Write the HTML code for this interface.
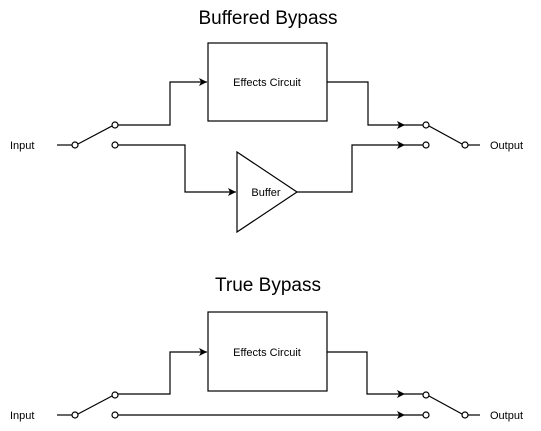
<!DOCTYPE html>
<html><head><style>body{margin:0;background:#fff}svg{display:block}text{font-family:"Liberation Sans",sans-serif;fill:#000}</style></head>
<body>
<svg width="541" height="431" viewBox="0 0 541 431" xmlns="http://www.w3.org/2000/svg">
<defs><marker id="a" markerWidth="10" markerHeight="10" refX="8" refY="5" orient="auto" markerUnits="userSpaceOnUse"><path d="M0,1 L8,5 L0,9 L2,5 Z" fill="#000"/></marker></defs>
<g stroke="#000" fill="none" stroke-width="1.2">
<text x="268" y="24" font-size="19" text-anchor="middle" stroke="none">Buffered Bypass</text>
<rect x="208" y="43" width="119" height="78"/>
<text x="267" y="86" font-size="11" text-anchor="middle" stroke="none">Effects Circuit</text>
<path d="M237,152 L237,232 L297,192 Z"/>
<text x="266" y="196" font-size="11" text-anchor="middle" stroke="none">Buffer</text>
<text x="10" y="149" font-size="11" stroke="none">Input</text>
<path d="M57,145 H72"/>
<circle cx="75" cy="145" r="3"/><circle cx="115" cy="125" r="3"/><circle cx="115" cy="145" r="3"/>
<path d="M78,144 L112,126"/>
<path d="M118,125 H170 V82 H207" marker-end="url(#a)"/>
<path d="M118,145 H185 V192 H236" marker-end="url(#a)"/>
<path d="M327,82 H368 V125 H405" marker-end="url(#a)"/>
<path d="M297,192 H352 V145 H405" marker-end="url(#a)"/>
<path d="M405,125 H423 M405,145 H423"/>
<circle cx="426" cy="125" r="3"/><circle cx="426" cy="145" r="3"/><circle cx="465" cy="145" r="3"/>
<path d="M429,126 L462,144"/>
<path d="M468,145 H480"/>
<text x="490" y="149" font-size="11" stroke="none">Output</text>

<text x="268" y="291" font-size="19" text-anchor="middle" stroke="none">True Bypass</text>
<rect x="208" y="312" width="119" height="79"/>
<text x="267" y="356" font-size="11" text-anchor="middle" stroke="none">Effects Circuit</text>
<text x="10" y="419" font-size="11" stroke="none">Input</text>
<path d="M57,415 H72"/>
<circle cx="75" cy="415" r="3"/><circle cx="115" cy="395" r="3"/><circle cx="115" cy="415" r="3"/>
<path d="M78,414 L112,396"/>
<path d="M118,394 H170 V352 H207" marker-end="url(#a)"/>
<path d="M118,415 H405" marker-end="url(#a)"/>
<path d="M327,352 H367 V394 H405" marker-end="url(#a)"/>
<path d="M405,394 H423 M405,415 H423"/>
<circle cx="426" cy="395" r="3"/><circle cx="426" cy="415" r="3"/><circle cx="465" cy="415" r="3"/>
<path d="M429,396 L462,414"/>
<path d="M468,415 H480"/>
<text x="490" y="419" font-size="11" stroke="none">Output</text>
</g>
</svg>
</body></html>
